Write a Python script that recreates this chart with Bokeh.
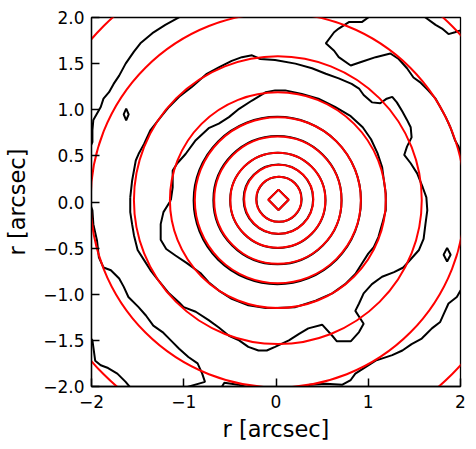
import math
from bokeh.plotting import figure
from bokeh.models import Range1d, FixedTicker
from bokeh.embed import file_html
from bokeh.resources import INLINE

# ---------------- data ----------------
x_ticks = [-2, -1, 0, 1, 2]
y_ticks = [-2.0, -1.5, -1.0, -0.5, 0.0, 0.5, 1.0, 1.5, 2.0]

# model (red) contour rings: centre and radius [arcsec]
model_cx = [0.03, 0.03, 0.02, 0.02, 0.02, 0.02, 0.02, 0.02, 0.02]
model_cy = [0.03, 0.03, 0.02, 0.02, 0.02, 0.02, 0.02, 0.02, 0.02]
model_r = [0.245, 0.375, 0.515, 0.69, 0.90, 1.17, 1.56, 2.03, 2.67]
# innermost model contour (diamond): centre and half-diagonal
core_x = [0.027]
core_y = [0.024]
core_half = [0.11]

# data (black) inner contours, nearly circular
data_ring_cx = [0.033, 0.025, 0.02, 0.016, 0.014]
data_ring_cy = [0.03, 0.03, 0.018, 0.02, 0.016]
data_ring_r = [0.245, 0.377, 0.517, 0.695, 0.907]

# data (black) contour, level at r ~ 1.17
c117_x = [-1.14, -1.12, -1.12, -1.07, -0.98, -0.87, -0.73, -0.62, -0.51, -0.40, -0.26, -0.11,
          -0.01, 0.10, 0.28, 0.46, 0.64, 0.81, 0.94, 1.03, 1.10, 1.15, 1.17, 1.19, 1.19, 1.15,
          1.11, 1.06, 1.00, 0.93, 0.86, 0.75, 0.61, 0.43, 0.21, -0.01, -0.11, -0.30, -0.48,
          -0.62, -0.73, -0.82, -0.97, -1.09, -1.19, -1.25, -1.25, -1.22, -1.14]
c117_y = [0.02, 0.16, 0.34, 0.42, 0.52, 0.67, 0.80, 0.85, 0.92, 1.01, 1.10, 1.19,
          1.21, 1.21, 1.17, 1.12, 1.03, 0.93, 0.81, 0.68, 0.53, 0.38, 0.23, 0.09, -0.09, -0.24,
          -0.38, -0.49, -0.56, -0.67, -0.78, -0.89, -0.99, -1.07, -1.14, -1.15, -1.15, -1.12, -1.05,
          -0.96, -0.87, -0.77, -0.66, -0.58, -0.51, -0.41, -0.24, -0.11, 0.02]

# data (black) contour, level at r ~ 1.56
c156_x = [-1.58, -1.56, -1.52, -1.49, -1.43, -1.36, -1.25, -1.16, -1.05, -0.91, -0.75, -0.62,
          -0.48, -0.37, -0.26, -0.17, -0.01, 0.21, 0.39, 0.54, 0.68, 0.82, 0.90, 0.95, 1.04,
          1.13, 1.20, 1.26, 1.31, 1.37, 1.42, 1.46, 1.47, 1.42, 1.39, 1.46, 1.53, 1.59, 1.63,
          1.64, 1.62, 1.60, 1.55, 1.47, 1.38, 1.28, 1.15, 1.04, 0.95, 0.90, 0.86, 0.95, 0.90,
          0.81, 0.66, 0.61, 0.50, 0.35, 0.25, 0.14, -0.01, -0.10, -0.19, -0.30, -0.40, -0.51,
          -0.62, -0.73, -0.87, -1.00, -1.05, -1.16, -1.29, -1.36, -1.43, -1.50, -1.54, -1.56,
          -1.58, -1.58]
c156_y = [0.05, 0.23, 0.45, 0.52, 0.63, 0.78, 0.92, 1.03, 1.14, 1.25, 1.39, 1.46,
          1.53, 1.57, 1.59, 1.55, 1.54, 1.50, 1.45, 1.39, 1.34, 1.28, 1.23, 1.16, 1.08,
          1.07, 1.12, 1.14, 1.08, 0.98, 0.89, 0.81, 0.70, 0.60, 0.51, 0.42, 0.31, 0.16, 0.05,
          -0.09, -0.24, -0.40, -0.52, -0.61, -0.71, -0.76, -0.81, -0.89, -0.99, -1.10, -1.18,
          -1.32, -1.41, -1.51, -1.51, -1.45, -1.33, -1.37, -1.43, -1.50, -1.57, -1.61, -1.61,
          -1.57, -1.50, -1.45, -1.36, -1.28, -1.19, -1.14, -1.09, -0.99, -0.83, -0.74, -0.63,
          -0.52, -0.36, -0.24, -0.11, 0.05]

# data (black) contour pieces, level at r ~ 2.03
c203_tl_x = [-1.00, -1.20, -1.34, -1.47, -1.54, -1.63, -1.70, -1.76, -1.81, -1.87, -1.90,
             -1.94, -1.98, -1.99, -1.99, -2.03]
c203_tl_y = [2.03, 1.92, 1.83, 1.72, 1.63, 1.50, 1.37, 1.28, 1.19, 1.12, 1.03,
             0.96, 0.89, 0.78, 0.65, 0.56]
c203_l_x = [-2.03, -1.99, -1.98, -1.94, -1.92, -1.87, -1.79, -1.70, -1.65, -1.60, -1.49, -1.41,
            -1.33, -1.23, -1.14, -1.05, -0.95, -0.85, -0.80, -0.77, -0.98, -1.09]
c203_l_y = [0.02, -0.09, -0.24, -0.42, -0.60, -0.71, -0.74, -0.83, -0.92, -1.03, -1.14, -1.23,
            -1.34, -1.41, -1.50, -1.59, -1.68, -1.75, -1.86, -1.95, -2.01, -2.04]
c203_b_x = [-0.61, -0.56, -0.41, -0.22]
c203_b_y = [-2.04, -1.96, -1.98, -2.03]
c203_br_x = [2.03, 2.00, 1.96, 1.87, 1.82, 1.78, 1.69, 1.64, 1.58, 1.47, 1.37, 1.26, 1.08,
             0.97, 0.86, 0.81, 0.72, 0.54, 0.37, 0.26]
c203_br_y = [-0.94, -0.96, -1.03, -1.10, -1.21, -1.30, -1.37, -1.42, -1.48, -1.54, -1.61, -1.66,
             -1.72, -1.79, -1.86, -1.93, -1.98, -1.97, -1.98, -2.04]
c203_tr_x = [1.04, 1.00, 0.93, 0.79, 0.68, 0.63, 0.54, 0.63, 0.68, 0.81, 0.93, 1.08, 1.24,
             1.33, 1.42, 1.49, 1.56, 1.65, 1.73, 1.78, 1.84, 1.89, 1.94, 1.98, 2.00, 2.03]
c203_tr_y = [2.04, 2.00, 1.95, 1.95, 1.88, 1.84, 1.72, 1.64, 1.57, 1.48, 1.52, 1.57, 1.61,
             1.55, 1.45, 1.35, 1.30, 1.21, 1.12, 1.03, 0.92, 0.81, 0.67, 0.60, 0.52, 0.45]

# data (black) contour pieces, level at r ~ 2.67 (corners)
c267_bl_x = [-2.03, -1.99, -1.96, -1.90, -1.82, -1.72, -1.63, -1.58, -1.54]
c267_bl_y = [-1.45, -1.50, -1.72, -1.77, -1.80, -1.86, -1.95, -2.01, -2.04]
c267_tr_x = [1.57, 1.62, 1.73, 1.80, 1.87, 1.94, 2.00, 2.03]
c267_tr_y = [2.05, 2.00, 1.92, 1.88, 1.82, 1.84, 1.86, 1.87]

# small closed data contours (islands)
island_xs = [[-1.624, -1.597, -1.624, -1.651], [1.855, 1.893, 1.855, 1.817]]
island_ys = [[1.012, 0.949, 0.886, 0.949], [-0.497, -0.571, -0.645, -0.571]]

# ---------------- figure ----------------
p = figure(
    output_backend="svg", toolbar_location=None,
    frame_width=369, frame_height=369,
    min_border_left=91, min_border_right=10, min_border_top=17, min_border_bottom=62,
    x_range=Range1d(-2, 2), y_range=Range1d(-2, 2),
    background_fill_color="white", border_fill_color="white",
)
p.grid.visible = False
p.outline_line_color = "black"
p.outline_line_width = 1.3

LW = 2.0

# black data contours
black_xs = [c117_x, c156_x, c203_tl_x, c203_l_x, c203_b_x, c203_br_x, c203_tr_x, c267_bl_x, c267_tr_x]
black_ys = [c117_y, c156_y, c203_tl_y, c203_l_y, c203_b_y, c203_br_y, c203_tr_y, c267_bl_y, c267_tr_y]
p.multi_line(black_xs, black_ys, line_color="black", line_width=LW)
p.patches(island_xs, island_ys, fill_color=None, line_color="black", line_width=LW)
p.circle(x=data_ring_cx, y=data_ring_cy, radius=data_ring_r, fill_color=None,
         line_color="black", line_width=LW)
p.rect(x=core_x, y=core_y, width=[h * math.sqrt(2) for h in core_half],
       height=[h * math.sqrt(2) for h in core_half], angle=math.pi / 4,
       fill_color=None, line_color="black", line_width=LW)

# red model contours
p.circle(x=model_cx, y=model_cy, radius=model_r, fill_color=None,
         line_color="red", line_width=LW)
p.rect(x=core_x, y=core_y, width=[h * math.sqrt(2) for h in core_half],
       height=[h * math.sqrt(2) for h in core_half], angle=math.pi / 4,
       fill_color=None, line_color="red", line_width=LW)

# axes
def minus(s):
    return s.replace("-", "\u2212")

p.xaxis.ticker = FixedTicker(ticks=x_ticks)
p.xaxis.major_label_overrides = {t: minus(str(t)) for t in x_ticks}
p.yaxis.ticker = FixedTicker(ticks=y_ticks)
p.yaxis.major_label_overrides = {t: minus(f"{t:.1f}") for t in y_ticks}

for ax in (p.xaxis[0], p.yaxis[0]):
    ax.axis_label = "r [arcsec]"
    ax.axis_label_text_font = "DejaVu Sans"
    ax.axis_label_text_font_style = "normal"
    ax.axis_label_text_font_size = "22.5px"
    ax.axis_label_text_color = "black"
    ax.major_label_text_font = "DejaVu Sans"
    ax.major_label_text_font_size = "17px"
    ax.major_label_text_color = "black"
    ax.major_tick_in = 8
    ax.major_tick_out = 0
    ax.major_tick_line_width = 1.5
    ax.major_tick_line_color = "black"
    ax.minor_tick_line_color = None
    ax.axis_line_color = "black"
    ax.axis_line_width = 1.3

p.xaxis.major_label_standoff = 8
p.xaxis.axis_label_standoff = 5
p.yaxis.major_label_standoff = 7
p.yaxis.axis_label_standoff = 10

open("out.html", "w").write(file_html(p, INLINE))
